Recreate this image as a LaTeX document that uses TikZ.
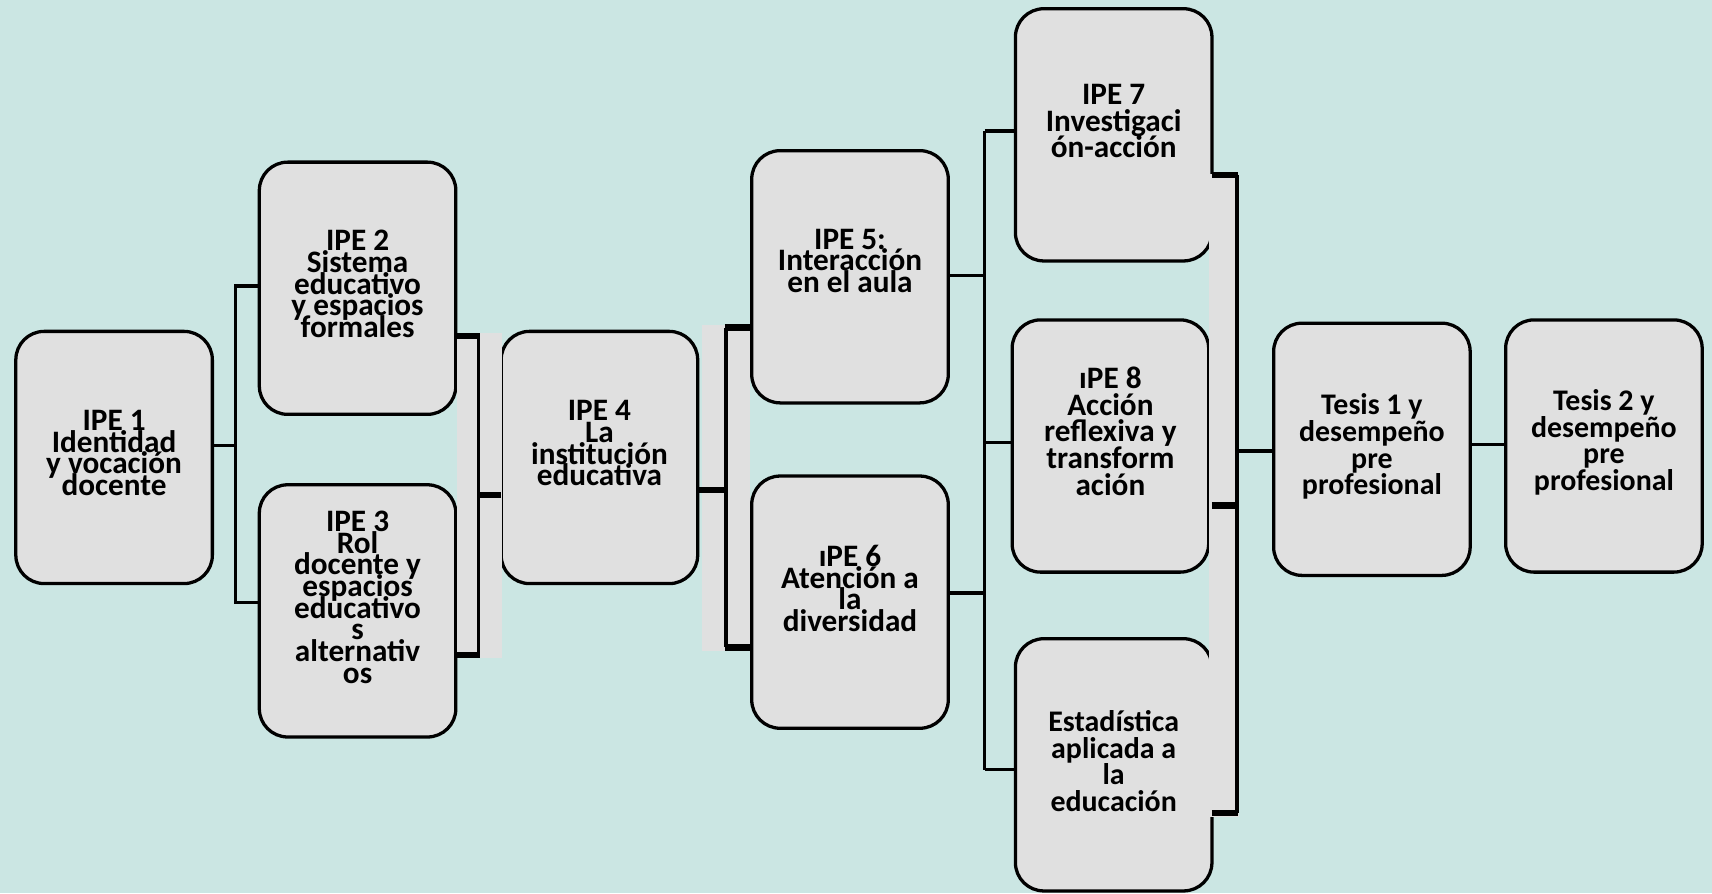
\documentclass[tikz,border=0pt]{standalone}
\usepackage{fontspec}
\setmainfont{Carlito}
\usetikzlibrary{calc}
\definecolor{bgc}{RGB}{203,230,227}
\definecolor{boxc}{RGB}{224,224,224}
\newcommand\mylsk{\setlength{\lineskiplimit}{-30pt}\setlength{\lineskip}{0pt}}
\begin{document}
\begin{tikzpicture}[x=0.5pt,y=-0.5pt,
 box/.style={draw=black,line width=1.5pt,fill=boxc,rounded corners=13pt,minimum width=90pt,minimum height=115.5pt,inner sep=0pt,outer sep=0pt},
 txt/.style={align=center,font=\fontsize{14.3}{9.9}\selectfont\bfseries\mylsk,inner sep=0pt},
 txtm/.style={align=center,font=\fontsize{14.3}{12.2}\selectfont\bfseries\mylsk,inner sep=0pt},
 txtb/.style={align=center,font=\fontsize{13.7}{12.2}\selectfont\bfseries\mylsk,inner sep=0pt},
 conn/.style={line width=1.5pt},
 stub/.style={line width=2.8pt}]
\fill[bgc] (0,0) rectangle (1568,818);
\useasboundingbox (0,0) rectangle (1568,818);
% boxes
\node[box] (b1) at (104.5,419) {};
\node[box] (b2) at (327.5,264) {};
\node[box] (b3) at (327.5,559.5) {};
\node[box] (b4) at (549,419) {};
\node[box] (b5) at (778.5,253.5) {};
\node[box] (b6) at (778.5,551.5) {};
\node[box] (b7) at (1020,123.5) {};
\node[box] (b8) at (1017,408.5) {};
\node[box] (b9) at (1020,700.5) {};
\node[box] (b10) at (1256.5,411.5) {};
\node[box] (b11) at (1469,408.5) {};
% texts
\node[txt] (t1) at (104.5,415) {IPE 1\\Identidad\\y vocación\\docente};
\node[txt] (t2) at (327.5,260) {IPE 2\\Sistema\\educativo\\y espacios\\formales};
\node[txt] (t3) at (327.5,547) {IPE 3\\Rol\\docente y\\espacios\\educativo\\s\\alternativ\\os};
\node[txt] (t4) at (549,406) {IPE 4\\La\\institución\\educativa};
\node[txt] (t5) at (778.5,239) {IPE 5:\\Interacción\\en el aula};
\node[txt] (t6) at (778.5,539) {ıPE 6\\Atención a\\la\\diversidad};
\node[txtm] (t7) at (1020,111) {IPE 7\\Investigaci\\ón-acción};
\node[txtm] (t8) at (1017,395) {ıPE 8\\Acción\\reflexiva y\\transform\\ación};
\node[txtb] (t9) at (1020,697) {Estadística\\aplicada a\\la\\educación};
\node[txtb] (t10) at (1256.5,409) {Tesis 1 y\\desempeño\\pre\\profesional};
\node[txtb] (t11) at (1469,405) {Tesis 2 y\\desempeño\\pre\\profesional};
% strips
\fill[boxc] (419,305) rectangle (460,603);
\fill[boxc] (643,298) rectangle (687,596);
\fill[boxc] (1107,159) rectangle (1135,748);
% connector IPE1 -> IPE2/IPE3
\coordinate (v1t) at (216,262);
\coordinate (v1b) at (216,552);
\draw[conn] (b1.east |- 0,408) -- (216,408);
\draw[conn] (b2.west |- v1t) -- (v1t) -- (v1b) -- (b3.west |- v1b);
% bracket IPE2/3 -> IPE4
\coordinate (v2t) at (438,308);
\coordinate (v2b) at (438,600);
\draw[conn] (v2t) -- (v2b);
\draw[stub] (b2.east |- v2t) -- ([xshift=0.6pt]v2t);
\draw[stub] (b3.east |- v2b) -- ([xshift=0.6pt]v2b);
\draw[stub] (438,453) -- (b4.west |- 0,453);
% bracket IPE4 -> IPE5/6
\coordinate (v3t) at (665,300);
\coordinate (v3b) at (665,593);
\draw[stub] (b4.east |- 0,449) -- (v3t |- 0,449);
\draw[conn] (v3t) -- (v3b);
\draw[stub] ([xshift=-0.6pt]v3t) -- (b5.west |- v3t);
\draw[stub] ([xshift=-0.6pt]v3b) -- (b6.west |- v3b);
% IPE5/6 -> IPE7/8/Est
\coordinate (v4t) at (902,120);
\coordinate (v4b) at (902,705);
\draw[conn] (b5.east |- 0,252) -- (902,252);
\draw[conn] (b6.east |- 0,543) -- (902,543);
\draw[conn] (v4t) -- (v4b);
\draw[conn] (v4t) -- (b7.west |- v4t);
\draw[conn] (902,405) -- (b8.west |- 0,405);
\draw[conn] (v4b) -- (b9.west |- v4b);
% right bracket
\coordinate (v5t) at (1133,160);
\coordinate (v5b) at (1133,745);
\draw[conn] (v5t) -- (v5b);
\draw[stub] (1110,160) -- ([xshift=0.6pt]v5t);
\draw[stub] (1110,463) -- (1133.6,463);
\draw[stub] (1110,745) -- ([xshift=0.6pt]v5b);
\draw[conn] (1133,413) -- (b10.west |- 0,413);
% Tesis1 -> Tesis2
\draw[conn] (b10.east |- 0,407) -- (b11.west |- 0,407);
\end{tikzpicture}
\end{document}
